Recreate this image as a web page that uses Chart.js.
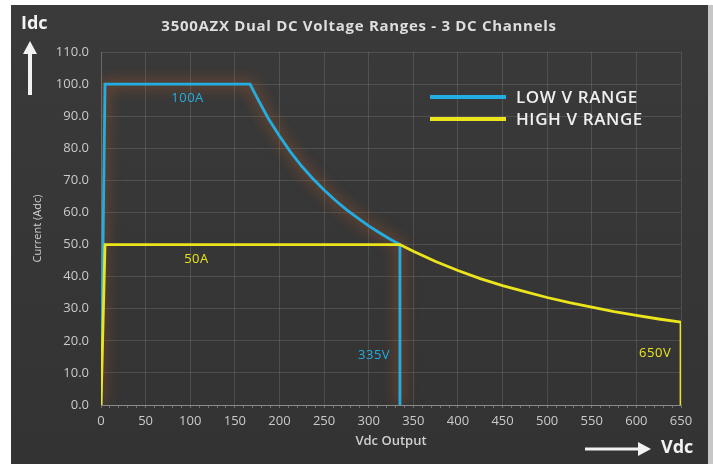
<!DOCTYPE html>
<html lang="en">
<head>
<meta charset="UTF-8" />
<title>3500AZX Dual DC Voltage Ranges</title>
<script src="https://cdn.jsdelivr.net/npm/chart.js"></script>
<style>
  html, body { margin: 0; padding: 0; background: #fff; }
  #wrap { width: 713px; height: 464px; }
</style>
</head>
<body>
<div id="wrap"><canvas id="vrange" width="713" height="464"></canvas></div>
<script>
  // values (volts / amps)
  const lowVolts  = [0, 4.5, 167, 175, 187.5, 200, 212.5, 225, 237.5, 250, 262.5, 275, 287.5, 300, 312.5, 325, 335, 335];
  const lowAmps   = [0, 100, 100, 95.7, 89.3, 83.8, 78.8, 74.4, 70.5, 67.0, 63.8, 60.9, 58.3, 55.8, 53.6, 51.5, 50.0, 0];
  const highVolts = [0, 4.5, 335, 350, 375, 400, 425, 450, 475, 500, 525, 550, 575, 600, 625, 650, 650];
  const highAmps  = [0, 50, 50, 47.9, 44.7, 41.9, 39.4, 37.2, 35.3, 33.5, 31.9, 30.5, 29.1, 27.9, 26.8, 25.8, 0];

  const seriesNames = ['LOW V RANGE', 'HIGH V RANGE'];
  const xMin = 0, xMax = 650, xMajor = 50, xMinor = 10;
  const yMin = 0, yMax = 110, yStep = 10;

  const noteText  = ['100A', '50A', '335V', '650V'];
  const noteVolts = [97, 107, 306, 621];
  const noteAmps  = [95.6, 45.5, 15.6, 16.2];

  const BLUE = '#22aee2';
  const YELLOW = '#ece51c';
  const FONT = "'Open Sans', 'DejaVu Sans', sans-serif";

  const toPoints = (xs, ys) => xs.map((x, i) => ({ x: x, y: ys[i] }));

  const backdrop = {
    id: 'backdrop',
    beforeDraw(chart) {
      const c = chart.ctx;
      c.save();
      c.fillStyle = '#ffffff';
      c.fillRect(0, 0, chart.width, chart.height);
      const g = c.createLinearGradient(0, 5, 0, chart.height);
      g.addColorStop(0, '#3a3a3a');
      g.addColorStop(1, '#333333');
      c.fillStyle = g;
      c.fillRect(11, 5, 697, chart.height - 5);
      c.fillStyle = '#c6c6c6';
      c.fillRect(708, 5, chart.width - 708, chart.height - 5);
      c.restore();
    }
  };

  const glow = {
    id: 'glow',
    beforeDatasetDraw(chart, args) {
      const ds = chart.data.datasets[args.index];
      if (!ds.glowColor) return;
      chart.ctx.save();
      chart.ctx.shadowColor = ds.glowColor;
      chart.ctx.shadowBlur = 14;
    },
    afterDatasetDraw(chart, args) {
      if (chart.data.datasets[args.index].glowColor) chart.ctx.restore();
    }
  };

  function arrow(c, x1, y1, x2, y2) {
    const a = Math.atan2(y2 - y1, x2 - x1);
    const head = 13, half = 7;
    c.beginPath();
    c.moveTo(x1, y1);
    c.lineTo(x2 - head * Math.cos(a), y2 - head * Math.sin(a));
    c.stroke();
    c.beginPath();
    c.moveTo(x2, y2);
    c.lineTo(x2 - head * Math.cos(a) - half * Math.sin(a), y2 - head * Math.sin(a) + half * Math.cos(a));
    c.lineTo(x2 - head * Math.cos(a) + half * Math.sin(a), y2 - head * Math.sin(a) - half * Math.cos(a));
    c.closePath();
    c.fill();
  }

  const decorations = {
    id: 'decorations',
    afterDraw(chart) {
      const c = chart.ctx;
      const xs = chart.scales.x, ys = chart.scales.y;
      c.save();

      // title
      c.fillStyle = '#dedede';
      c.font = 'bold 15px ' + FONT;
      c.letterSpacing = '0.7px';
      c.textAlign = 'center';
      c.textBaseline = 'middle';
      c.fillText('3500AZX Dual DC Voltage Ranges - 3 DC Channels', 359, 27);
      c.letterSpacing = '0px';

      // Idc / Vdc axis markers
      c.fillStyle = '#f2f2f2';
      c.strokeStyle = '#f2f2f2';
      c.lineWidth = 4;
      c.font = 'bold 18px ' + FONT;
      c.textAlign = 'left';
      c.fillText('Idc', 21, 24);
      arrow(c, 30, 95, 30, 41);
      c.fillText('Vdc', 661, 448);
      c.lineWidth = 3;
      arrow(c, 585, 449, 651, 449);

      // point notes
      c.font = '13px ' + FONT;
      c.letterSpacing = '0.5px';
      c.textAlign = 'center';
      noteText.forEach((t, i) => {
        c.fillStyle = t === '100A' || t === '335V' ? BLUE : YELLOW;
        c.fillText(t, xs.getPixelForValue(noteVolts[i]), ys.getPixelForValue(noteAmps[i]));
      });

      // legend
      c.font = '600 17px ' + FONT;
      c.letterSpacing = '0.6px';
      c.textAlign = 'left';
      chart.data.datasets.forEach((ds, i) => {
        const y = 97 + i * 22;
        c.strokeStyle = ds.borderColor;
        c.lineWidth = 4;
        c.beginPath();
        c.moveTo(430, y);
        c.lineTo(506, y);
        c.stroke();
        c.fillStyle = '#efefef';
        c.fillText(ds.label, 516, y + 1);
      });
      c.restore();
    }
  };

  new Chart(document.getElementById('vrange'), {
    type: 'scatter',
    data: {
      datasets: [
        {
          label: seriesNames[0],
          data: toPoints(lowVolts, lowAmps),
          showLine: true,
          borderColor: BLUE,
          backgroundColor: BLUE,
          borderWidth: 2.8,
          pointRadius: 0,
          tension: 0,
          order: 2,
          glowColor: 'rgba(215, 100, 35, 1)'
        },
        {
          label: seriesNames[1],
          data: toPoints(highVolts, highAmps),
          showLine: true,
          borderColor: YELLOW,
          backgroundColor: YELLOW,
          borderWidth: 2.8,
          pointRadius: 0,
          tension: 0,
          order: 1
        }
      ]
    },
    options: {
      responsive: false,
      animation: false,
      layout: { padding: { left: 11, right: 32, top: 52, bottom: 0 } },
      plugins: {
        legend: { display: false },
        title: { display: false },
        tooltip: { enabled: false }
      },
      scales: {
        x: {
          type: 'linear',
          min: xMin,
          max: xMax,
          afterFit(scale) { scale.height = 59; },
          border: { color: 'rgba(255,255,255,0.35)' },
          grid: {
            color: ctx => ctx.tick && ctx.tick.value % xMajor === 0 ? 'rgba(255,255,255,0.12)' : 'rgba(0,0,0,0)',
            tickColor: 'rgba(255,255,255,0.3)',
            tickLength: 3
          },
          ticks: {
            stepSize: xMinor,
            autoSkip: false,
            maxRotation: 0,
            color: '#cacaca',
            font: { family: FONT, size: 13 },
            padding: 5,
            callback: v => v % xMajor === 0 ? String(v) : ''
          },
          title: {
            display: true,
            text: 'Vdc Output',
            color: '#d0d0d0',
            font: { family: FONT, size: 13, weight: '600' },
            padding: { top: 0, bottom: 15 }
          }
        },
        y: {
          min: yMin,
          max: yMax,
          afterFit(scale) { scale.width = 90; },
          border: { color: 'rgba(255,255,255,0.15)' },
          grid: { color: 'rgba(255,255,255,0.12)', drawTicks: false },
          ticks: {
            stepSize: yStep,
            color: '#cacaca',
            font: { family: FONT, size: 13 },
            padding: 12,
            callback: v => v.toFixed(1)
          },
          title: {
            display: true,
            text: 'Current (Adc)',
            color: '#cfcfcf',
            font: { family: FONT, size: 11 },
            padding: { top: 20, bottom: 0 }
          }
        }
      }
    },
    plugins: [backdrop, glow, decorations]
  });
</script>
</body>
</html>
